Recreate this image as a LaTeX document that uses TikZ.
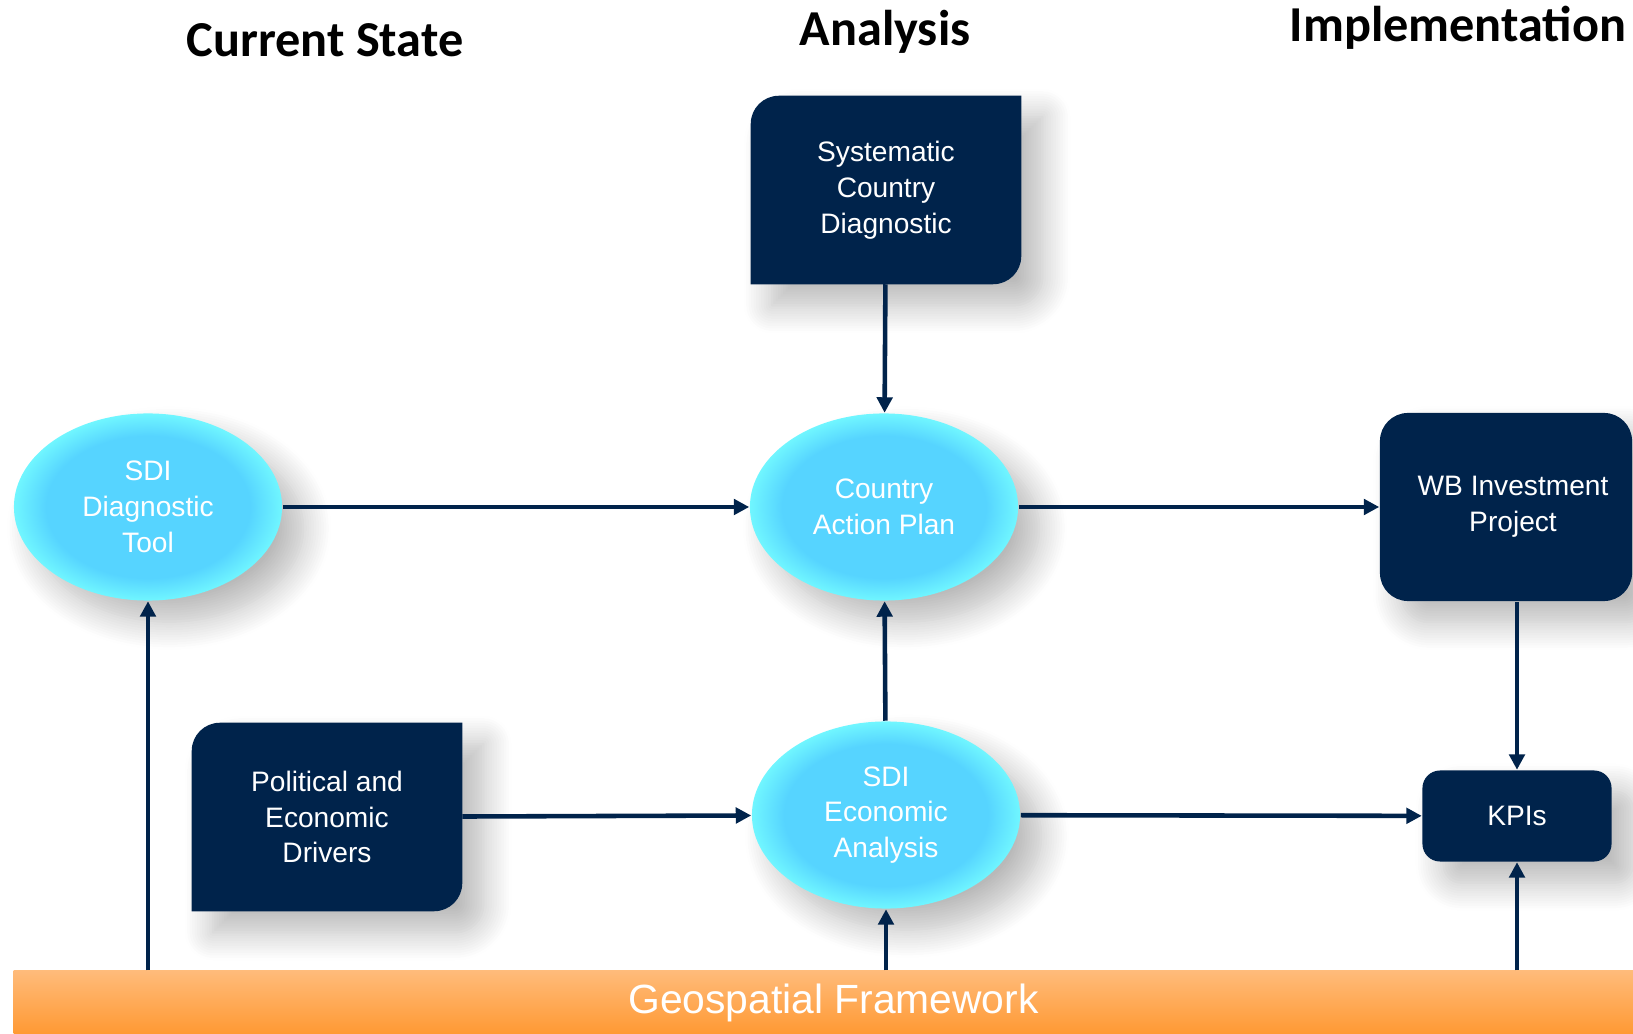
\documentclass[tikz,border=0pt]{standalone}
\usepackage{fontspec}
\setmainfont{Liberation Sans}
\newfontfamily\headfont{Carlito}
\usetikzlibrary{shapes.geometric,arrows.meta,shadows.blur,backgrounds}

% colors
\definecolor{kNavy}{RGB}{0,35,75}
\definecolor{kCyan}{RGB}{86,212,255}
\definecolor{kRim}{RGB}{112,246,255}
\definecolor{kOrangeTop}{RGB}{255,187,122}
\definecolor{kOrangeBot}{RGB}{255,153,51}
\pgfdeclareradialshading{bubbleshade}{\pgfpoint{0bp}{0bp}}{color(0bp)=(kCyan); color(19bp)=(kCyan); color(25bp)=(kRim); color(50bp)=(kRim)}

\tikzset{
  soft/.style={blur shadow={shadow xshift=6pt,shadow yshift=-6pt,shadow blur radius=8pt,
               shadow blur steps=12,shadow opacity=28}},
  bubble/.style={ellipse,minimum width=2.68cm,minimum height=1.87cm,shading=bubbleshade,
                 text=white,align=center,soft},
  navybox/.style={rectangle,rounded corners=8pt,fill=kNavy,text=white,align=center,soft},
  diagbox/.style={rectangle,minimum width=2.69cm,minimum height=1.87cm,text=white,align=center},
  flow/.style={draw=kNavy,line width=1.3pt,-{Triangle[length=4.4pt,width=4.4pt]}},
  heading/.style={font=\headfont\bfseries\fontsize{14.3pt}{17pt}\selectfont,anchor=base west,inner sep=0pt},
}

% box with two round corners
\newcommand\diagfill[1]{%
  \fill[kNavy,soft] (#1.north east) -- ([yshift=8pt]#1.south east)
    arc[start angle=0,end angle=-90,radius=8pt] -- (#1.south west)
    -- ([yshift=-8pt]#1.north west) arc[start angle=180,end angle=90,radius=8pt] -- cycle;}

\begin{document}
\begin{tikzpicture}[x=0.01cm,y=-0.01cm,font=\fontsize{8pt}{10.2pt}\selectfont]
  \useasboundingbox (0,0) rectangle (1633,1034);

  % headings
  \node[heading] (hcur) at (186,57) {Current State};
  \node[heading] (hana) at (799,46) {Analysis};
  \node[heading] (himp) at (1289,42) {Implementation};

  % nodes
  \node[diagbox] (scd) at (886,190) {Systematic\\Country\\Diagnostic};
  \node[diagbox] (pol) at (327,817) {Political and\\Economic\\Drivers};
  \node[bubble] (diag) at (148,507) {SDI\\Diagnostic\\Tool};
  \node[bubble] (cap) at (884,507) {Country\\Action Plan};
  \node[bubble] (sea) at (886,815) {SDI\\Economic\\Analysis};
  \node[navybox,minimum width=2.52cm,minimum height=1.88cm] (wb) at (1506,507) {\hspace*{0.14cm}WB Investment\\\hspace*{0.14cm}Project};
  \node[navybox,rounded corners=5pt,minimum width=1.89cm,minimum height=0.91cm] (kpi) at (1517,816) {KPIs};
  \node[rectangle,minimum width=16.19cm,minimum height=0.63cm,top color=kOrangeTop,bottom color=kOrangeBot,
        text=white,font=\fontsize{11.6pt}{13pt}\selectfont] (geo) at (823.5,1002.5)
        {\hspace*{0.2cm}\raisebox{-0.06cm}{Geospatial Framework}};

  \begin{scope}[on background layer]
    \diagfill{scd}
    \diagfill{pol}
  \end{scope}

  % connectors
  \draw[flow] (scd) -- (cap);
  \draw[flow] (diag) -- (cap);
  \draw[flow] (cap) -- (wb);
  \draw[flow] (sea) -- (cap);
  \draw[flow] (pol) -- (sea);
  \draw[flow] (sea) -- (kpi);
  \draw[flow] (wb.south -| kpi) -- (kpi);
  \foreach \n in {diag,sea,kpi}
    \draw[flow] (geo.north -| \n) -- (\n);
\end{tikzpicture}
\end{document}
